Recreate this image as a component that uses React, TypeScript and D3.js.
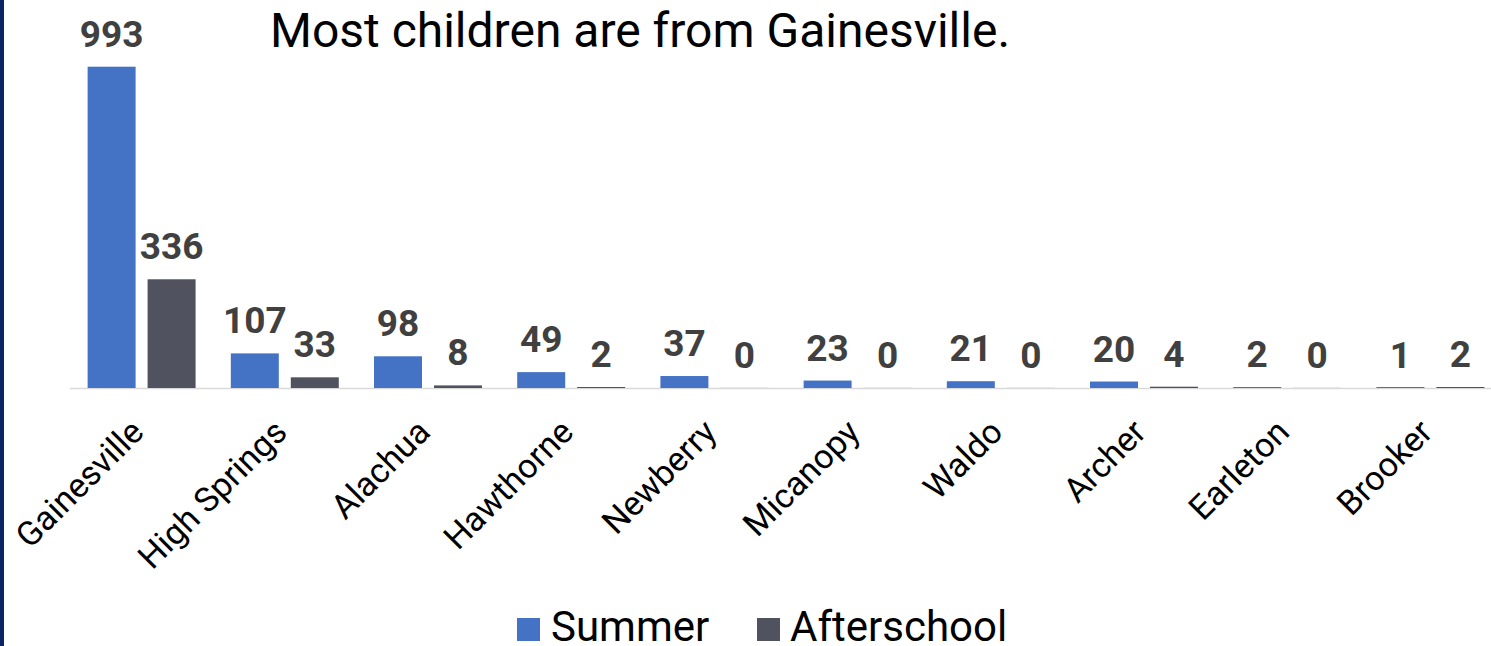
import * as d3 from 'd3';
import { useEffect, useRef } from 'react';

const categories = ["Gainesville", "High Springs", "Alachua", "Hawthorne", "Newberry", "Micanopy", "Waldo", "Archer", "Earleton", "Brooker"];
const summer = [993, 107, 98, 49, 37, 23, 21, 20, 2, 1];
const afterschool = [336, 33, 8, 2, 0, 0, 0, 4, 0, 2];
const seriesNames = ["Summer", "Afterschool"];
const seriesColors = ["#4472c4", "#50535f"];

interface Row {
    city: string;
    values: { key: string; value: number }[];
}

const App = () => {
    const ref = useRef<SVGSVGElement>(null);

    useEffect(() => {
        const width = 1491;
        const height = 646;
        const baseline = 388;
        const font = "Roboto, 'Noto Sans', sans-serif";

        const data: Row[] = categories.map((c, i) => ({
            city: c,
            values: [
                { key: seriesNames[0], value: summer[i] },
                { key: seriesNames[1], value: afterschool[i] },
            ],
        }));

        const svg = d3.select(ref.current);
        svg.selectAll("*").remove();

        svg.append("rect").attr("width", width).attr("height", height).attr("fill", "#ffffff");
        // dark border strip on the left
        svg.append("rect").attr("x", 0).attr("y", 0).attr("width", 4).attr("height", height).attr("fill", "#0c2463");

        const x0 = d3.scaleBand()
            .domain(categories)
            .range([70, 1502])
            .paddingInner(0.246)
            .paddingOuter(0.123);

        const x1 = d3.scaleBand()
            .domain(seriesNames)
            .range([0, x0.bandwidth()])
            .paddingInner(0.2);

        const y = d3.scaleLinear()
            .domain([0, 993])
            .range([baseline, 66.7]);

        const color = d3.scaleOrdinal<string, string>().domain(seriesNames).range(seriesColors);

        // Title
        svg.append("text")
            .attr("x", 640)
            .attr("y", 47)
            .attr("text-anchor", "middle")
            .style("font-family", font)
            .style("font-size", "48px")
            .attr("fill", "#000")
            .text("Most children are from Gainesville.");

        // Axis line
        svg.append("line")
            .attr("x1", 70).attr("x2", width)
            .attr("y1", baseline + 0.5).attr("y2", baseline + 0.5)
            .attr("stroke", "#d9d9d9")
            .attr("stroke-width", 1.5);

        const groups = svg.append("g")
            .selectAll("g")
            .data(data)
            .join("g")
            .attr("transform", d => `translate(${x0(d.city)},0)`);

        groups.selectAll("rect")
            .data(d => d.values)
            .join("rect")
            .attr("x", d => x1(d.key)!)
            .attr("y", d => Math.min(y(d.value), baseline - 1))
            .attr("width", x1.bandwidth())
            .attr("height", d => Math.max(baseline - y(d.value), 1))
            .attr("fill", d => d.value === 0 ? "#e8e8e8" : color(d.key));

        groups.selectAll("text")
            .data(d => d.values)
            .join("text")
            .attr("x", d => x1(d.key)! + x1.bandwidth() / 2)
            .attr("y", d => y(d.value) - 20)
            .attr("text-anchor", "middle")
            .style("font-family", font)
            .style("font-size", "37px")
            .style("font-weight", "bold")
            .attr("fill", "#404040")
            .text(d => d.value);

        // Category labels
        svg.append("g")
            .selectAll("text")
            .data(categories)
            .join("text")
            .attr("transform", d => `translate(${x0(d)! + x0.bandwidth() / 2 + 4},${baseline + 46}) rotate(-45)`)
            .attr("text-anchor", "end")
            .style("font-family", font)
            .style("font-size", "34px")
            .attr("fill", "#000")
            .text(d => d);

        // Legend
        const legendItems = [
            { name: seriesNames[0], x: 517, tx: 551 },
            { name: seriesNames[1], x: 757, tx: 790 },
        ];
        const legend = svg.append("g");
        legend.selectAll("rect")
            .data(legendItems)
            .join("rect")
            .attr("x", d => d.x)
            .attr("y", 618)
            .attr("width", 23)
            .attr("height", 23)
            .attr("fill", d => color(d.name));
        legend.selectAll("text")
            .data(legendItems)
            .join("text")
            .attr("x", d => d.tx)
            .attr("y", 641)
            .style("font-family", font)
            .style("font-size", "42px")
            .attr("fill", "#000")
            .text(d => d.name);
    }, []);

    return (
        <svg
            ref={ref}
            width={1491}
            height={646}
            style={{ position: "absolute", left: 0, top: 0, display: "block" }}
        />
    );
};

export default App;
